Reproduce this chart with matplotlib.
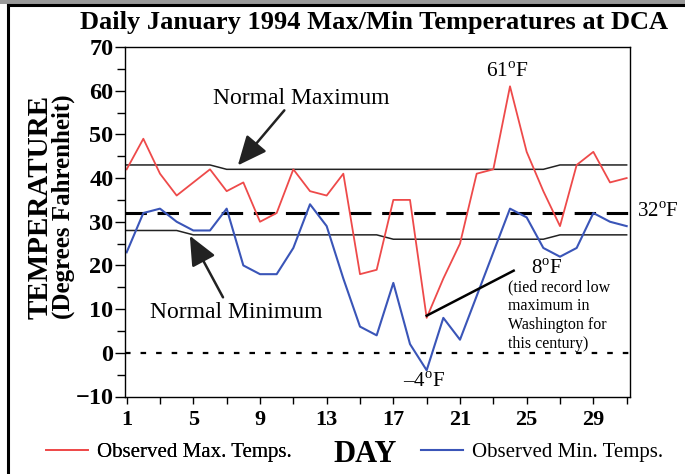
import matplotlib
matplotlib.use("Agg")
import matplotlib.pyplot as plt
from matplotlib.lines import Line2D
from matplotlib.patches import Rectangle

plt.rcParams['font.family'] = ['Liberation Serif', 'DejaVu Serif']
plt.rcParams['mathtext.fontset'] = 'custom'
plt.rcParams['mathtext.rm'] = 'Liberation Serif'
plt.rcParams['mathtext.bf'] = 'Liberation Serif:bold'

# ---- data ----
days = list(range(1, 32))
max_temps = [42, 49, 41, 36, 39, 42, 37, 39, 30, 32, 42, 37, 36, 41, 18, 19,
             35, 35, 8, 17, 25, 41, 42, 61, 46, 37, 29, 43, 46, 39, 40]
min_temps = [23, 32, 33, 30, 28, 28, 33, 20, 18, 18, 24, 34, 29, 17, 6, 4,
             16, 2, -4, 8, 3, 13, 23, 33, 31, 24, 22, 24, 32, 30, 29]
normal_max = [43] * 6 + [42] * 20 + [43] * 5
normal_min = [28] * 4 + [27] * 12 + [26] * 10 + [27] * 5
freezing = 32
x_ticks = [1, 5, 9, 13, 17, 21, 25, 29]
y_ticks = [-10, 0, 10, 20, 30, 40, 50, 60, 70]

RED = '#ee4a4a'
BLUE = '#3a55b8'
DARK = '#222222'

fig = plt.figure(figsize=(6.85, 4.74), dpi=100)
ax = fig.add_axes([124.5 / 685, 1 - 396.5 / 474, (630 - 124.5) / 685, (396.5 - 47) / 474])

# frame decoration
fig.patches.append(Rectangle((0, 1 - 4 / 474), 1, 4 / 474, transform=fig.transFigure,
                             facecolor='#9a9a9a', edgecolor='none', zorder=0))
fig.lines.append(Line2D([8 / 685, 8 / 685], [0, 1 - 5 / 474], transform=fig.transFigure,
                        color='black', lw=2.2))
fig.lines.append(Line2D([8 / 685, 1], [1 - 5 / 474, 1 - 5 / 474], transform=fig.transFigure,
                        color='black', lw=2.2))

ax.plot(days, normal_max, color=DARK, lw=1.1)
ax.plot(days, normal_min, color=DARK, lw=1.1)
ax.axhline(freezing, color='black', lw=2.2, dashes=(7, 3.5))
ax.axhline(0, color='black', lw=1.6, dashes=(2.5, 4.5))
red_line, = ax.plot(days, max_temps, color=RED, lw=1.3)
blue_line, = ax.plot(days, min_temps, color=BLUE, lw=1.5)

ax.set_xlim(0.87, 31.2)
ax.set_ylim(-10, 70)
ax.set_xticks(x_ticks)
ax.set_xticks(range(1, 32, 2), minor=True)
ax.set_yticks(y_ticks)
ax.set_yticks(range(-10, 71, 5), minor=True)
ax.set_yticklabels(['\u221210' if v < 0 else str(v) for v in y_ticks])
ax.tick_params(axis='both', which='both', direction='out', width=1)
ax.tick_params(axis='y', which='major', length=7, pad=1, labelsize=17.5)
ax.tick_params(axis='y', which='minor', length=6)
ax.tick_params(axis='x', which='major', length=5, pad=5, labelsize=16)
ax.tick_params(axis='x', which='minor', length=5)
for lab in ax.get_xticklabels() + ax.get_yticklabels():
    lab.set_fontweight('bold')
for s in ax.spines.values():
    s.set_linewidth(1.0)

deg = r'$^{\rm o}$F'
# annotations
ax.text(11.5, 58.3, 'Normal Maximum', ha='center', va='center', fontsize=17)
ax.annotate('', xy=(7.67, 42.9), xytext=(10.46, 55.5),
            arrowprops=dict(arrowstyle='-|>,head_length=0.9,head_width=0.4',
                            color=DARK, lw=1.8, mutation_scale=20, shrinkA=0, shrinkB=0))
ax.text(7.56, 9.25, 'Normal Minimum', ha='center', va='center', fontsize=17)
ax.annotate('', xy=(4.79, 26.8), xytext=(6.78, 12.7),
            arrowprops=dict(arrowstyle='-|>,head_length=0.9,head_width=0.4',
                            color=DARK, lw=1.8, mutation_scale=20, shrinkA=0, shrinkB=0))
ax.text(23.83, 64.3, '61' + deg, ha='center', va='center', fontsize=15.5)
ax.text(31.6, 32.2, '32' + deg, ha='left', va='center', fontsize=15, clip_on=False)
ax.text(26.2, 19.2, '8' + deg, ha='center', va='center', fontsize=15)
ax.text(23.87, 16.9, '(tied record low\nmaximum in\nWashington for\nthis century)',
        ha='left', va='top', fontsize=11.5, linespacing=1.26)
ax.text(18.84, -6.8, '\u2013' + '4' + deg, ha='center', va='center', fontsize=15)
ax.plot([19, 24.22], [8.5, 18.8], color='black', lw=1.8)

fig.text(374 / 685, 1 - 22 / 474, 'Daily January 1994 Max/Min Temperatures at DCA',
         ha='center', va='center', fontsize=19, fontweight='bold')
fig.text(40 / 685, 1 - 207 / 474, 'TEMPERATURE', rotation=90, ha='center', va='center',
         fontsize=21, fontweight='bold')
fig.text(63 / 685, 1 - 207 / 474, '(Degrees Fahrenheit)', rotation=90, ha='center',
         va='center', fontsize=18, fontweight='bold')
fig.text(365 / 685, 1 - 455 / 474, 'DAY', ha='center', va='center', fontsize=22,
         fontweight='bold')

leg1 = fig.legend([red_line], ['Observed Max. Temps.'], loc='center left',
                  bbox_to_anchor=(46 / 685, 1 - 452 / 474), frameon=False, fontsize=15,
                  handlelength=2.0, handletextpad=0.45, borderpad=0, borderaxespad=0)
leg2 = fig.legend([blue_line], ['Observed Min. Temps.'], loc='center left',
                  bbox_to_anchor=(421 / 685, 1 - 452 / 474), frameon=False, fontsize=15,
                  handlelength=2.0, handletextpad=0.45, borderpad=0, borderaxespad=0)
fig.add_artist(leg1)

fig.savefig('out.png', dpi=100)
